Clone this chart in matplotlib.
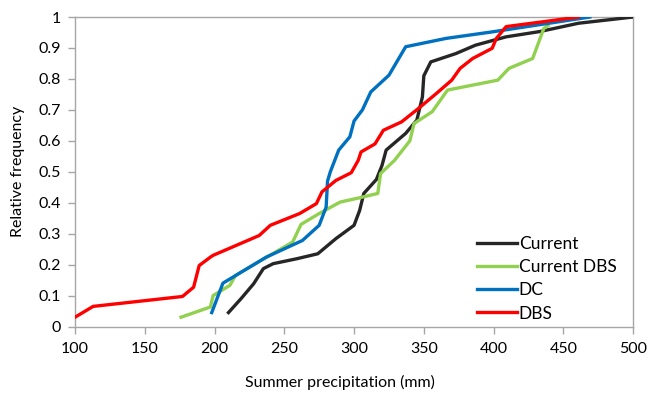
import matplotlib
matplotlib.use("Agg")
import matplotlib.pyplot as plt
from matplotlib.ticker import FuncFormatter

# Data
current_x = [210, 219, 228, 235, 242, 259, 274, 287, 300, 304, 307, 316, 320, 323, 337, 345, 349, 350, 355, 373, 387, 409, 433, 461, 500]
current_y = [0.045, 0.09, 0.138, 0.187, 0.203, 0.219, 0.235, 0.284, 0.327, 0.375, 0.43, 0.475, 0.52, 0.57, 0.624, 0.667, 0.742, 0.81, 0.855, 0.882, 0.909, 0.936, 0.953, 0.98, 1.0]

current_dbs_x = [176, 197, 199, 211, 215, 256, 262, 275, 290, 304, 317, 319, 329, 340, 343, 356, 367, 403, 411, 428, 436, 439]
current_dbs_y = [0.03, 0.063, 0.10, 0.133, 0.165, 0.273, 0.33, 0.365, 0.402, 0.416, 0.43, 0.494, 0.537, 0.60, 0.656, 0.694, 0.764, 0.796, 0.834, 0.866, 0.963, 0.972]

dc_x = [198, 206, 237, 263, 275, 280, 281, 283, 289, 297, 300, 306, 312, 325, 337, 366, 399, 469]
dc_y = [0.045, 0.14, 0.224, 0.278, 0.327, 0.386, 0.47, 0.50, 0.57, 0.613, 0.664, 0.70, 0.758, 0.812, 0.904, 0.931, 0.952, 1.0]

dbs_x = [100, 113, 177, 185, 189, 197, 199, 232, 240, 261, 273, 277, 287, 298, 303, 305, 315, 321, 334, 346, 359, 370, 376, 385, 399, 402, 409, 461]
dbs_y = [0.03, 0.065, 0.097, 0.127, 0.197, 0.224, 0.23, 0.294, 0.327, 0.365, 0.397, 0.435, 0.472, 0.497, 0.537, 0.564, 0.59, 0.634, 0.661, 0.704, 0.753, 0.796, 0.834, 0.866, 0.899, 0.931, 0.969, 1.0]

series_names = ["Current", "Current DBS", "DC", "DBS"]
series_colors = ["#262626", "#92D050", "#0070C0", "#FF0000"]

x_ticks = [100, 150, 200, 250, 300, 350, 400, 450, 500]
y_ticks = [0, 0.1, 0.2, 0.3, 0.4, 0.5, 0.6, 0.7, 0.8, 0.9, 1.0]

plt.rcParams['font.family'] = ['Lato', 'DejaVu Sans']

fig = plt.figure(figsize=(6.5, 3.96), dpi=100)
ax = fig.add_axes([0.1154, 0.1755, 0.8586, 0.7815])

data = [(current_x, current_y), (current_dbs_x, current_dbs_y), (dc_x, dc_y), (dbs_x, dbs_y)]
order = [1, 0, 3, 2]
lines = {}
for i in order:
    xs, ys = data[i]
    ln, = ax.plot(xs, ys, color=series_colors[i], lw=2.4, label=series_names[i],
                  solid_joinstyle='round', zorder=3 + i)
    lines[i] = ln

ax.set_xlim(100, 500)
ax.set_ylim(0, 1)
ax.set_xticks(x_ticks)
ax.set_yticks(y_ticks)
ax.yaxis.set_major_formatter(FuncFormatter(lambda v, p: ("%g" % round(v, 1))))

for s in ax.spines.values():
    s.set_color("#A6A6A6")
    s.set_linewidth(1.0)
ax.tick_params(axis='both', direction='out', length=5, width=1, color="#A6A6A6",
               labelsize=11.5, labelcolor="#000000")
ax.tick_params(axis='x', pad=6)
ax.tick_params(axis='y', pad=5)

ax.set_xlabel("Summer precipitation (mm)", fontsize=11.5, labelpad=9)
ax.xaxis.set_label_coords(0.475, -0.155)
ax.set_ylabel("Relative frequency", fontsize=11.5, labelpad=10)

handles = [lines[i] for i in range(4)]
leg = ax.legend(handles, series_names, loc='lower left', frameon=False,
                fontsize=12.5, handlelength=2.3, handletextpad=0.12,
                labelspacing=0.42, borderaxespad=0.0, borderpad=0.0,
                bbox_to_anchor=(0.72, 0.016))

fig.savefig("out.png", dpi=100)
